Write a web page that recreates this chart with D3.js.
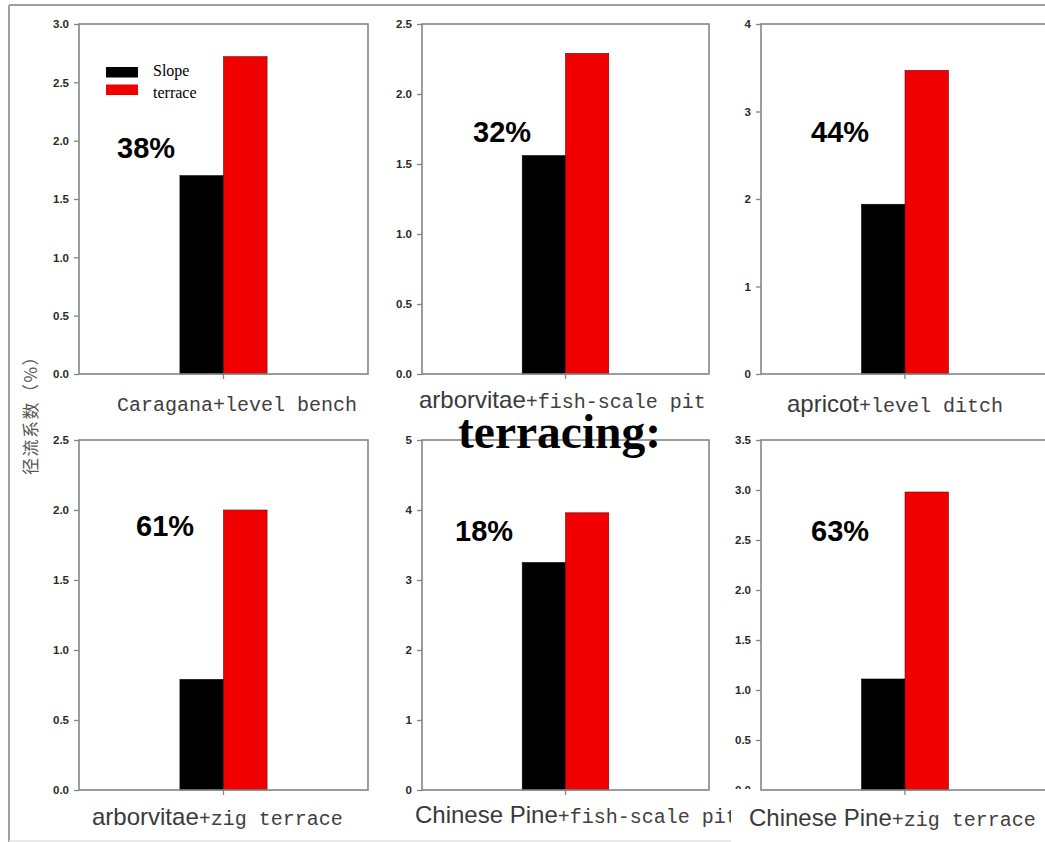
<!DOCTYPE html>
<html>
<head>
<meta charset="utf-8">
<script src="https://cdn.jsdelivr.net/npm/d3@7/dist/d3.min.js"></script>
<style>
  html, body { margin: 0; padding: 0; background: #fff; }
  svg { display: block; }
</style>
</head>
<body>
<svg id="chart" width="1045" height="842"></svg>
<script>
// Runoff coefficient (%) on slope land vs. terraced land, six measures
const measureSans = ["", "arborvitae", "apricot", "arborvitae", "Chinese Pine", "Chinese Pine"];
const measureMono = ["Caragana+level bench", "+fish-scale pit", "+level ditch",
                     "+zig terrace", "+fish-scale pit", "+zig terrace"];
const seriesNames = ["Slope", "terrace"];
const slopeValues   = [1.70, 1.56, 1.94, 0.79, 3.25, 1.11];
const terraceValues = [2.72, 2.29, 3.47, 2.00, 3.96, 2.98];
const reductionLabels = ["38%", "32%", "44%", "61%", "18%", "63%"];
const yMaxValues = [3.0, 2.5, 4, 2.5, 5, 3.5];
const yTickLabels = [
  ["0.0", "0.5", "1.0", "1.5", "2.0", "2.5", "3.0"],
  ["0.0", "0.5", "1.0", "1.5", "2.0", "2.5"],
  ["0", "1", "2", "3", "4"],
  ["0.0", "0.5", "1.0", "1.5", "2.0", "2.5"],
  ["0", "1", "2", "3", "4", "5"],
  ["0.0", "0.5", "1.0", "1.5", "2.0", "2.5", "3.0", "3.5"]
];
const yAxisTitle = "径流系数（%）";
const overlayWord = "terracing:";

// Panel frames (plot area) and annotation offsets
const panelBoxes = [
  { x: 79,  y: 24,  w: 289, h: 350 },
  { x: 422, y: 24,  w: 287, h: 350 },
  { x: 761, y: 24,  w: 288, h: 350 },
  { x: 79,  y: 440, w: 289, h: 350 },
  { x: 422, y: 440, w: 287, h: 350 },
  { x: 761, y: 440, w: 288, h: 350 }
];
const pctOffsets = [[38, 134], [51, 118], [50, 118], [57, 96], [33, 101], [50, 101]];
const labelPos = [[117, 411], [419, 408], [787, 412], [92, 825], [415, 823], [749, 826]];

const colors = { Slope: "#000000", terrace: "#f00000" };
const frameColor = "#858585";

const svg = d3.select("#chart");

// outer frame lines
svg.append("line").attr("x1", 9).attr("x2", 1045).attr("y1", 5).attr("y2", 5)
  .attr("stroke", "#a0a0a0").attr("stroke-width", 2);
svg.append("line").attr("x1", 9).attr("x2", 9).attr("y1", 5).attr("y2", 842)
  .attr("stroke", "#a0a0a0").attr("stroke-width", 2);
svg.append("line").attr("x1", 9).attr("x2", 731).attr("y1", 841).attr("y2", 841)
  .attr("stroke", "#e2e2e2").attr("stroke-width", 1.5);

const defs = svg.append("defs");
defs.append("clipPath").attr("id", "clip-p5-label")
  .append("rect").attr("x", 0).attr("y", 0).attr("width", 731).attr("height", 842);
// local coordinates of the last panel: cut its tick labels just above the baseline
defs.append("clipPath").attr("id", "clip-p6-ticks")
  .append("rect").attr("x", -120).attr("y", -30).attr("width", 500).attr("height", 379);

panelBoxes.forEach((box, i) => {
  const g = svg.append("g").attr("transform", `translate(${box.x},${box.y})`);

  const y = d3.scaleLinear().domain([0, yMaxValues[i]]).range([box.h, 0]);
  const category = [measureSans[i] + measureMono[i]];
  const x0 = d3.scaleBand().domain(category).range([0, box.w])
    .paddingInner(0).paddingOuter(1.158);
  const x1 = d3.scaleBand().domain(seriesNames).range([0, x0.bandwidth()]);

  // bars
  const vals = [slopeValues[i], terraceValues[i]];
  g.append("g").attr("transform", `translate(${x0(category[0])},0)`)
    .selectAll("rect").data(seriesNames.map((s, k) => ({ s, v: vals[k] })))
    .join("rect")
    .attr("x", d => x1(d.s))
    .attr("y", d => y(d.v))
    .attr("width", x1.bandwidth())
    .attr("height", d => y(0) - y(d.v))
    .attr("fill", d => colors[d.s])
    .attr("stroke", d => d.s === "terrace" ? "#7a0000" : "#000")
    .attr("stroke-width", 0.6);

  // frame
  g.append("rect").attr("x", 0).attr("y", 0).attr("width", box.w).attr("height", box.h)
    .attr("fill", "none").attr("stroke", frameColor).attr("stroke-width", 1.6);

  // y axis
  const tickVals = yTickLabels[i].map(Number);
  const ya = g.append("g")
    .call(d3.axisLeft(y).tickValues(tickVals).tickSize(5).tickPadding(5)
      .tickFormat((d, k) => yTickLabels[i][k]));
  ya.select(".domain").remove();
  ya.selectAll(".tick line").attr("stroke", frameColor).attr("stroke-width", 1.3);
  ya.selectAll(".tick text")
    .attr("font-family", "Liberation Sans, Arial, sans-serif")
    .attr("font-weight", "bold").attr("font-size", 11.5).attr("fill", "#2a2a2a");
  if (i === 5) ya.attr("clip-path", "url(#clip-p6-ticks)");

  // category tick
  g.append("line")
    .attr("x1", x0(category[0]) + x0.bandwidth() / 2)
    .attr("x2", x0(category[0]) + x0.bandwidth() / 2)
    .attr("y1", box.h).attr("y2", box.h + 5)
    .attr("stroke", frameColor).attr("stroke-width", 1.3);

  // reduction label
  svg.append("text")
    .attr("x", box.x + pctOffsets[i][0]).attr("y", box.y + pctOffsets[i][1])
    .attr("font-family", "Liberation Sans, Arial, sans-serif")
    .attr("font-weight", "bold").attr("font-size", 29).attr("fill", "#000")
    .text(reductionLabels[i]);

  // measure label
  const t = svg.append("text")
    .attr("x", labelPos[i][0]).attr("y", labelPos[i][1]).attr("fill", "#3a3a3a");
  if (i === 4) t.attr("clip-path", "url(#clip-p5-label)");
  if (measureSans[i]) {
    t.append("tspan").attr("font-family", "Liberation Sans, Arial, sans-serif")
      .attr("font-size", 24).text(measureSans[i]);
  }
  t.append("tspan").attr("font-family", "Liberation Mono, DejaVu Sans Mono, monospace")
    .attr("font-size", 20).attr("fill", "#404040").text(measureMono[i]);
});

// legend (first panel)
const legend = svg.append("g");
seriesNames.forEach((s, k) => {
  legend.append("rect").attr("x", 106).attr("y", 67 + k * 17.5)
    .attr("width", 32).attr("height", 10.5).attr("fill", colors[s]);
  legend.append("text").attr("x", 153).attr("y", 76 + k * 22)
    .attr("font-family", "Liberation Serif, Times New Roman, serif")
    .attr("font-size", 16).attr("fill", "#000").text(s);
});

// y-axis title
svg.append("text")
  .attr("transform", "translate(37,411) rotate(-90)")
  .attr("text-anchor", "middle")
  .attr("font-family", "Noto Sans CJK SC, sans-serif")
  .attr("font-size", 17).attr("letter-spacing", 1.5).attr("fill", "#555")
  .text(yAxisTitle);

// overlay word
svg.append("text").attr("x", 458).attr("y", 448)
  .attr("font-family", "Liberation Serif, Times New Roman, serif")
  .attr("font-weight", "bold").attr("font-size", 47.5).attr("fill", "#000")
  .text(overlayWord);
</script>
</body>
</html>
